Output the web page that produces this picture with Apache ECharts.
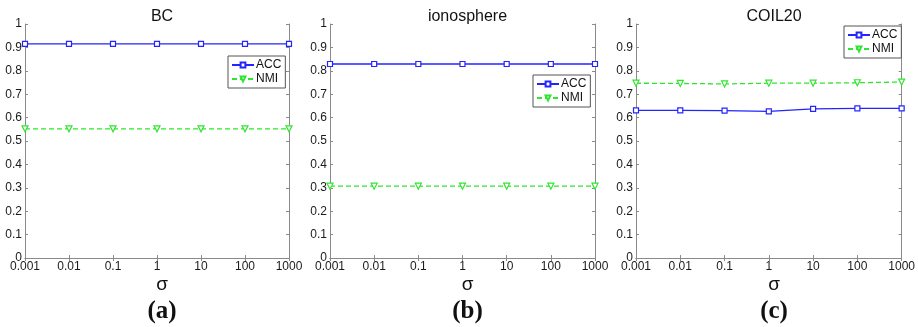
<!DOCTYPE html>
<html>
<head>
<meta charset="utf-8">
<script src="https://cdn.jsdelivr.net/npm/echarts@6/dist/echarts.min.js"></script>
<style>
  html, body { margin: 0; padding: 0; background: #fff; }
  #chart { width: 918px; height: 327px; }
</style>
</head>
<body>
<div id="chart"></div>
<script>
// sigma values on the x axis
const sigmaLabels = ['0.001', '0.01', '0.1', '1', '10', '100', '1000'];
const yTicks = [0, 0.1, 0.2, 0.3, 0.4, 0.5, 0.6, 0.7, 0.8, 0.9, 1];

const panelTitles = ['BC', 'ionosphere', 'COIL20'];
const panelTags = ['(a)', '(b)', '(c)'];

// clustering scores per dataset
const bcACC = [0.915, 0.915, 0.915, 0.915, 0.915, 0.915, 0.915];
const bcNMI = [0.552, 0.552, 0.552, 0.552, 0.552, 0.552, 0.552];
const ionoACC = [0.829, 0.829, 0.829, 0.829, 0.829, 0.829, 0.829];
const ionoNMI = [0.307, 0.307, 0.307, 0.307, 0.307, 0.307, 0.307];
const coilACC = [0.631, 0.631, 0.630, 0.627, 0.637, 0.639, 0.639];
const coilNMI = [0.747, 0.746, 0.744, 0.747, 0.747, 0.749, 0.752];

const accSets = [bcACC, ionoACC, coilACC];
const nmiSets = [bcNMI, ionoNMI, coilNMI];

// plot boxes in pixels: [left, right-edge]
const boxes = [[25, 289], [330, 595], [636, 902]];
const plotTop = 24, plotBottom = 258;
const legendPos = [[228, 56], [533, 75], [844, 26]];

const W = 918, H = 327;
const frame = '#8a8a8a';
const txt = '#1a1a1a';
const blue = '#2424ff';
const green = '#2fe62f';
const font = 'Liberation Sans, Arial, sans-serif';

const grids = [], xAxes = [], yAxes = [], series = [], titles = [], legends = [];

boxes.forEach((b, i) => {
  grids.push({ left: b[0], width: b[1] - b[0], top: plotTop, height: plotBottom - plotTop,
               show: false, containLabel: false });
  const tick = { show: true, inside: true, length: 3, lineStyle: { color: frame } };
  const line = { show: true, lineStyle: { color: frame, width: 1 } };
  xAxes.push({
    type: 'category', gridIndex: i, data: sigmaLabels, boundaryGap: false,
    position: 'bottom', axisLine: line, axisTick: tick,
    axisLabel: { color: txt, fontSize: 12, fontFamily: font, margin: 3, interval: 0 },
    splitLine: { show: false }
  });
  xAxes.push({
    type: 'category', gridIndex: i, data: sigmaLabels, boundaryGap: false,
    position: 'top', axisLine: line, axisTick: tick,
    axisLabel: { show: false }, splitLine: { show: false }
  });
  yAxes.push({
    type: 'value', gridIndex: i, min: 0, max: 1, interval: 0.1, position: 'left',
    axisLine: line, axisTick: tick, splitLine: { show: false },
    axisLabel: { color: txt, fontSize: 12, fontFamily: font, margin: 3,
                 formatter: v => String(Math.round(v * 10) / 10) }
  });
  yAxes.push({
    type: 'value', gridIndex: i, min: 0, max: 1, interval: 0.1, position: 'right',
    axisLine: line, axisTick: tick, splitLine: { show: false },
    axisLabel: { show: false }
  });

  series.push({
    name: 'ACC', type: 'line', xAxisIndex: 2 * i, yAxisIndex: 2 * i,
    data: accSets[i], symbol: 'rect', symbolSize: 5, showAllSymbol: true,
    lineStyle: { color: blue, width: 1.3 },
    itemStyle: { color: '#fff', borderColor: blue, borderWidth: 1.2 },
    emphasis: { disabled: true }, animation: false
  });
  series.push({
    name: 'NMI', type: 'line', xAxisIndex: 2 * i, yAxisIndex: 2 * i,
    data: nmiSets[i], symbol: 'triangle', symbolRotate: 180, symbolSize: 6,
    lineStyle: { color: green, width: 1.3, type: [5, 3] },
    itemStyle: { color: '#fff', borderColor: green, borderWidth: 1.2 },
    emphasis: { disabled: true }, animation: false
  });

  const cx = (b[0] + b[1]) / 2;
  titles.push({ text: panelTitles[i], left: cx, top: 4, textAlign: 'center',
                textStyle: { fontSize: 16, fontWeight: 'normal', color: '#111', fontFamily: font } });
  titles.push({ text: 'σ', left: cx, top: 270, textAlign: 'center',
                textStyle: { fontSize: 19, fontWeight: 'normal', color: '#111', fontFamily: font } });
  titles.push({ text: panelTags[i], left: cx, top: 294, textAlign: 'center',
                textStyle: { fontSize: 25, fontWeight: 'bold', color: '#111',
                             fontFamily: 'Liberation Serif, Times New Roman, serif' } });

  legends.push({
    data: ['ACC', 'NMI'], orient: 'vertical', left: legendPos[i][0], top: legendPos[i][1],
    backgroundColor: '#fff', borderColor: '#555', borderWidth: 1, borderRadius: 0,
    padding: [3, 4, 3, 3], itemWidth: 22, itemHeight: 6, itemGap: 2,
    textStyle: { fontSize: 12, color: '#111', fontFamily: font, padding: [0, 0, 0, -3] },
    selectedMode: false
  });
});

const chart = echarts.init(document.getElementById('chart'), null, { renderer: 'canvas', width: W, height: H });
chart.setOption({
  backgroundColor: '#fff',
  animation: false,
  title: titles,
  legend: legends,
  grid: grids,
  xAxis: xAxes,
  yAxis: yAxes,
  series: series
});
</script>
</body>
</html>
